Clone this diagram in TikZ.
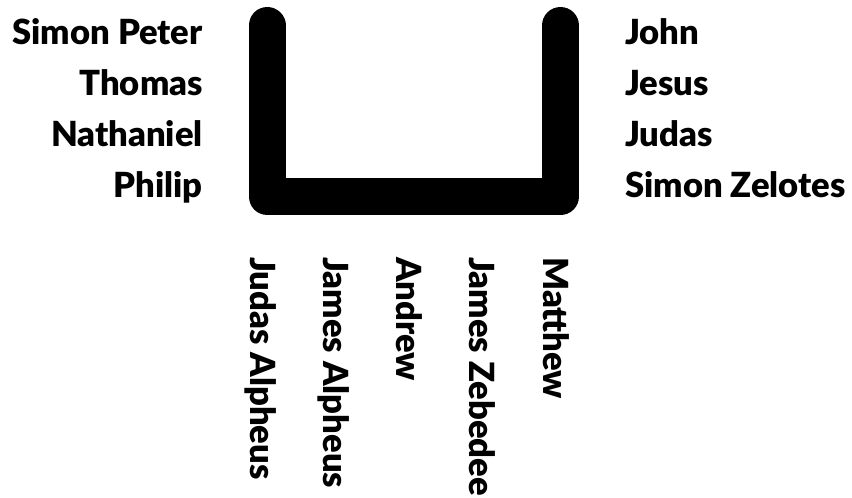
\documentclass[tikz,border=0pt]{standalone}
\usepackage{fontspec}
\setmainfont{Lato}[BoldFont={Lato Black}]
\usetikzlibrary{positioning}

\begin{document}
\begin{tikzpicture}[x=1pt, y=-1pt, font=\fontsize{34.6}{34.6}\selectfont\bfseries,
  table/.style={line width=37pt, line cap=round, line join=round},
  lname/.style={anchor=base east, inner sep=0pt},
  rname/.style={anchor=base west, inner sep=0pt},
  bname/.style={anchor=base west, inner sep=0pt, rotate=-90}]
\useasboundingbox (0,0) rectangle (852,498);
\coordinate (tl) at (267,25.5);
\coordinate (bl) at (267,196.5);
\coordinate (br) at (560.5,196.5);
\coordinate (tr) at (560.5,25.5);
\draw[table] (tl) -- (bl) -- (br) -- (tr);
\node[lname] (peter) at (203,44) {Simon Peter};
\node[lname] (thomas) at (203,95) {Thomas};
\node[lname] (nathaniel) at (203,146) {Nathaniel};
\node[lname] (philip) at (203,197) {Philip};
\node[rname] (john) at (625,44) {John};
\node[rname] (jesus) at (625,95) {Jesus};
\node[rname] (judas) at (625,146) {Judas};
\node[rname] (zelotes) at (625,197) {Simon Zelotes};
\node[bname] (judasalph) at (250,257) {Judas Alpheus};
\node[bname] (jamesalph) at (323,257) {James Alpheus};
\node[bname] (andrew) at (396,257) {Andrew};
\node[bname] (zebedee) at (469,257) {James Zebedee};
\node[bname] (matthew) at (543,257) {Matthew};
\end{tikzpicture}
\end{document}
